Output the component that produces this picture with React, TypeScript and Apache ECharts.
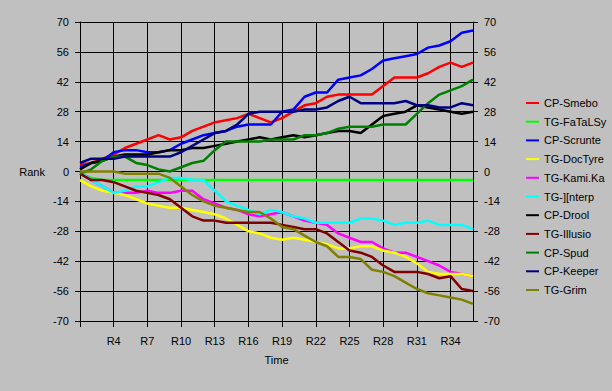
import React, { useEffect, useRef } from "react";
import * as echarts from "echarts";

const categories = [
  "R1", "R2", "R3", "R4", "R5", "R6", "R7", "R8", "R9", "R10", "R11", "R12",
  "R13", "R14", "R15", "R16", "R17", "R18", "R19", "R20", "R21", "R22", "R23", "R24",
  "R25", "R26", "R27", "R28", "R29", "R30", "R31", "R32", "R33", "R34", "R35", "R36",
];

const cpSmebo = [3, 4, 6, 8, 11, 13, 15, 17, 15, 16, 19, 21, 23, 24, 25, 27, 25, 23, 25, 28, 31, 32, 35, 36, 36, 36, 36, 40, 44, 44, 44, 46, 49, 51, 49, 51];
const tgFatalsy = [-1, -3, -4, -4, -4, -4, -4, -4, -4, -4, -4, -4, -4, -4, -4, -4, -4, -4, -4, -4, -4, -4, -4, -4, -4, -4, -4, -4, -4, -4, -4, -4, -4, -4, -4, -4];
const cpScrunte = [2, 4, 5, 9, 10, 10, 9, 9, 10, 13, 15, 17, 18, 19, 21, 22, 22, 22, 28, 29, 35, 37, 37, 43, 44, 45, 48, 52, 53, 54, 55, 58, 59, 61, 65, 66];
const tgDoctyre = [-4, -7, -9, -10, -11, -13, -15, -16, -17, -17, -18, -19, -20, -22, -25, -28, -29, -31, -32, -31, -32, -33, -34, -36, -36, -35, -35, -37, -38, -40, -43, -47, -48, -48, -48, -49];
const tgKamika = [0, -4, -7, -10, -10, -10, -9, -10, -10, -9, -9, -13, -15, -17, -18, -20, -21, -20, -19, -21, -23, -24, -25, -29, -31, -33, -33, -36, -38, -38, -40, -42, -44, -47, -48, -49];
const tgInterp = [0, -4, -7, -10, -9, -7, -7, -5, -3, -3, -4, -4, -9, -14, -16, -18, -20, -18, -19, -21, -22, -24, -24, -24, -24, -22, -22, -23, -25, -24, -24, -23, -25, -25, -25, -27];
const cpDrool = [1, 4, 5, 7, 8, 8, 8, 9, 10, 10, 11, 11, 12, 13, 14, 15, 16, 15, 16, 17, 16, 17, 18, 19, 19, 18, 22, 26, 27, 28, 31, 30, 29, 28, 27, 28];
const tgIllusio = [-1, -4, -4, -5, -7, -9, -10, -11, -13, -17, -21, -23, -23, -24, -24, -24, -24, -24, -25, -26, -27, -27, -29, -33, -37, -38, -40, -44, -47, -47, -47, -48, -50, -49, -55, -56];
const cpSpud = [-1, 1, 5, 7, 7, 4, 3, 1, 0, 2, 4, 5, 10, 14, 14, 14, 14, 15, 15, 15, 17, 17, 18, 20, 21, 21, 21, 22, 22, 22, 27, 32, 36, 38, 40, 43];
const cpKeeper = [4, 6, 6, 6, 7, 7, 7, 7, 7, 9, 12, 15, 18, 19, 22, 27, 28, 28, 28, 28, 29, 29, 30, 33, 35, 32, 32, 32, 32, 33, 31, 31, 30, 30, 32, 31];
const tgGrim = [0, 0, 0, 0, -1, -1, -1, -1, -3, -7, -11, -14, -16, -17, -18, -19, -19, -22, -26, -27, -30, -33, -35, -40, -40, -41, -46, -47, -49, -52, -55, -57, -58, -59, -60, -62];

const yTicks = { min: -70, max: 70, interval: 14 };

const legendNames = [
  "CP-Smebo", "TG-FaTaLSy", "CP-Scrunte", "TG-DocTyre", "TG-Kami.Ka", "TG-][nterp",
  "CP-Drool", "TG-Illusio", "CP-Spud", "CP-Keeper", "TG-Grim",
];

// drawing order (Kami.Ka drawn below DocTyre)
const seriesDefs: { name: string; color: string; data: number[] }[] = [
  { name: "CP-Smebo", color: "#ff0000", data: cpSmebo },
  { name: "TG-FaTaLSy", color: "#00ff00", data: tgFatalsy },
  { name: "CP-Scrunte", color: "#0000ff", data: cpScrunte },
  { name: "TG-Kami.Ka", color: "#ff00ff", data: tgKamika },
  { name: "TG-DocTyre", color: "#ffff00", data: tgDoctyre },
  { name: "TG-][nterp", color: "#00ffff", data: tgInterp },
  { name: "CP-Drool", color: "#000000", data: cpDrool },
  { name: "TG-Illusio", color: "#800000", data: tgIllusio },
  { name: "CP-Spud", color: "#008000", data: cpSpud },
  { name: "CP-Keeper", color: "#000080", data: cpKeeper },
  { name: "TG-Grim", color: "#808000", data: tgGrim },
];

const FONT = "'Liberation Sans', Arial, sans-serif";

export default function App() {
  const ref = useRef<HTMLDivElement>(null);
  useEffect(() => {
    if (!ref.current) return;
    const chart = echarts.init(ref.current, undefined, { renderer: "svg" });
    const black = "#000000";
    const yAxisBase = {
      type: "value" as const,
      min: yTicks.min,
      max: yTicks.max,
      interval: yTicks.interval,
      axisLine: { show: true, lineStyle: { color: black, width: 1 } },
      axisTick: { show: true, length: 5, lineStyle: { color: black, width: 1 } },
      axisLabel: { color: black, fontSize: 11, fontFamily: FONT, margin: 11 },
    };
    chart.setOption({
      animation: false,
      backgroundColor: "#c0c0c0",
      textStyle: { fontFamily: FONT },
      grid: { left: 80, right: 139, top: 22, height: 299, containLabel: false },
      legend: {
        orient: "vertical",
        left: 521,
        top: 91,
        data: legendNames,
        icon: "rect",
        itemWidth: 13,
        itemHeight: 2,
        itemGap: 4.7,
        textStyle: { color: black, fontSize: 11, fontFamily: FONT, lineHeight: 14 },
        selectedMode: false,
      },
      xAxis: {
        type: "category",
        data: categories,
        boundaryGap: false,
        name: "Time",
        nameLocation: "middle",
        nameGap: 33,
        nameTextStyle: { color: black, fontSize: 11, fontFamily: FONT },
        axisLine: { show: true, onZero: false, lineStyle: { color: black, width: 1 } },
        axisTick: { show: true, length: 6, interval: 2, lineStyle: { color: black, width: 1 } },
        axisLabel: {
          color: black,
          fontSize: 11,
          fontFamily: FONT,
          margin: 14,
          interval: (index: number) => index % 3 === 0 && index > 0,
        },
        splitLine: { show: true, interval: 2, lineStyle: { color: black, width: 1 } },
      },
      yAxis: [
        {
          ...yAxisBase,
          position: "left",
          name: "Rank",
          nameLocation: "middle",
          nameRotate: 0,
          nameGap: 35,
          nameTextStyle: { color: black, fontSize: 11, fontFamily: FONT },
          splitLine: { show: true, lineStyle: { color: black, width: 1 } },
        },
        {
          ...yAxisBase,
          position: "right",
          splitLine: { show: false },
        },
      ],
      series: seriesDefs.map((s) => ({
        name: s.name,
        type: "line",
        data: s.data,
        yAxisIndex: 0,
        symbol: "none",
        showSymbol: false,
        color: s.color,
        lineStyle: { color: s.color, width: 2.5 },
        emphasis: { disabled: true },
      })),
    });
    return () => chart.dispose();
  }, []);
  return (
    <div
      ref={ref}
      style={{ position: "fixed", left: 0, top: 0, width: 612, height: 391 }}
    />
  );
}
